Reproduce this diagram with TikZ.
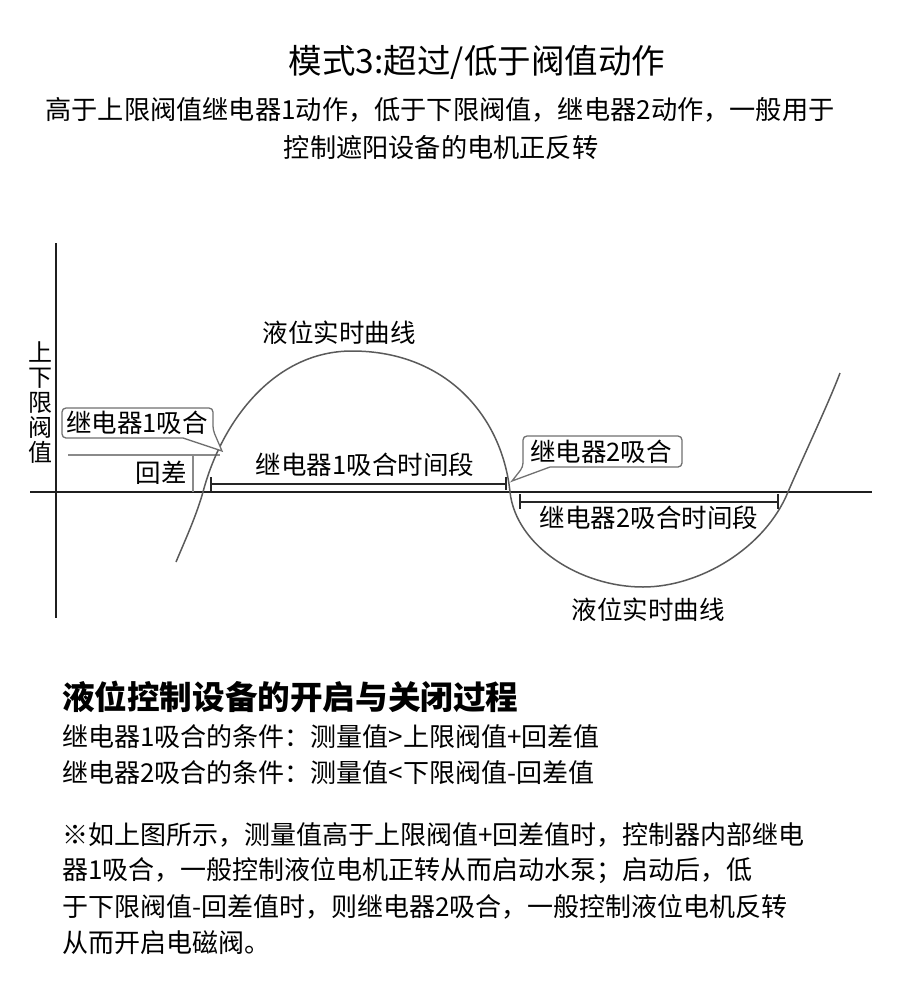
\documentclass[tikz,border=0pt]{standalone}
\usepackage{fontspec}
\setmainfont{Noto Sans CJK SC}
\definecolor{curvec}{HTML}{5A5A5A}
\definecolor{thrc}{HTML}{8A8A8A}
\definecolor{boxc}{HTML}{707070}
\tikzset{
  lbl/.style={inner sep=0pt, font=\fontsize{25.5}{30}\selectfont},
  body/.style={inner sep=0pt, anchor=west, font=\fontsize{26}{30}\selectfont},
  axis/.style={line width=2.6pt, draw=black!88},
  thr/.style={line width=1.6pt, draw=thrc},
  brk/.style={line width=2pt, draw=black!85},
  callout/.style={line width=1.3pt, draw=boxc, fill=white, rounded corners=4pt},
}
\begin{document}
\begin{tikzpicture}[x=1pt,y=-1pt]
\useasboundingbox (0,0) rectangle (900,986);
% titles
\node[inner sep=0pt, font=\fontsize{33.5}{38}\selectfont] (title) at (477,62) {模式3:超过/低于阀值动作};
\node[inner sep=0pt, font=\fontsize{26.2}{30}\selectfont] (sub1) at (440,110) {高于上限阀值继电器1动作，低于下限阀值，继电器2动作，一般用于};
\node[inner sep=0pt, font=\fontsize{26.2}{30}\selectfont] (sub2) at (441,147) {控制遮阳设备的电机正反转};
% axes
\draw[axis] (56,243) -- (56,618);
\draw[axis] (30,492) -- (872,492);
% threshold and hysteresis
\draw[thr] (68,455) -- (220,455);
\draw[thr] (193,455) -- (193,492);
% curve
\draw[line width=1.5pt, curvec]
  (176,562) .. controls (183,545) and (196,517) .. (203,492)
  .. controls (222,420) and (275,351) .. (352,351)
  .. controls (445,351) and (502,415) .. (510,492)
  .. controls (516,546) and (580,587) .. (643,587)
  .. controls (700,587) and (765,548) .. (788,492)
  .. controls (800,464) and (830,400) .. (840,373);
% brackets
\draw[brk] (211,477) -- (211,491);
\draw[brk] (506,477) -- (506,490);
\draw[brk] (211,484) -- (506,484);
\draw[brk] (520,494) -- (520,509);
\draw[brk] (778,494) -- (778,509);
\draw[brk] (520,502) -- (778,502);
% callouts
\draw[callout] (183,438) -- (62,438) -- (62,408) -- (213,408) -- (213,430) [sharp corners] -- (222,451) -- cycle;
\draw[callout] (550,467) -- (682,467) -- (682,436) -- (523,436) -- (523,467) [sharp corners] -- (512,481) -- cycle;
\node[lbl] (c1) at (137,423) {继电器1吸合};
\node[lbl] (c2) at (601,452) {继电器2吸合};
% labels
\node[lbl] (top) at (339,333) {液位实时曲线};
\node[lbl] (bot) at (648,610) {液位实时曲线};
\node[lbl] (p1) at (365,465) {继电器1吸合时间段};
\node[lbl] (p2) at (649,518) {继电器2吸合时间段};
\node[lbl] (hc) at (161,473) {回差};
\node[inner sep=0pt, align=center, font=\fontsize{24}{25}\selectfont] (yl) at (40,403) {上\\下\\限\\阀\\值};
% bottom text
\node[body, font=\fontsize{32.6}{36}\selectfont\bfseries] (h) at (62,697) {液位控制设备的开启与关闭过程};
\node[body] (l1) at (62,737) {继电器1吸合的条件：测量值>上限阀值+回差值};
\node[body] (l2) at (62,773) {继电器2吸合的条件：测量值<下限阀值-回差值};
\node[body] (l3) at (62,835) {※如上图所示，测量值高于上限阀值+回差值时，控制器内部继电};
\node[body] (l4) at (62,871) {器1吸合，一般控制液位电机正转从而启动水泵；启动后，低};
\node[body] (l5) at (62,907) {于下限阀值-回差值时，则继电器2吸合，一般控制液位电机反转};
\node[body] (l6) at (62,943) {从而开启电磁阀。};
\end{tikzpicture}
\end{document}
